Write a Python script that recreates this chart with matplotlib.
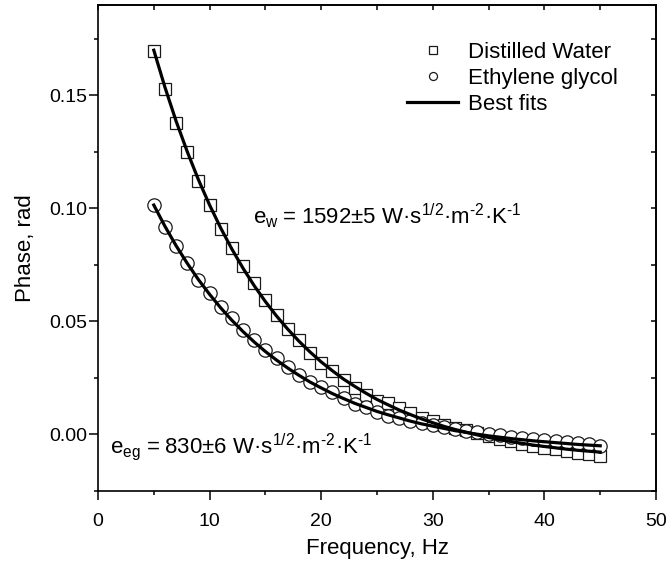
import matplotlib
matplotlib.use("Agg")
import matplotlib.pyplot as plt
from matplotlib.ticker import MultipleLocator, FormatStrFormatter, NullFormatter

plt.rcParams["font.family"] = ["Liberation Sans", "DejaVu Sans"]
plt.rcParams["mathtext.fontset"] = "custom"
plt.rcParams["mathtext.rm"] = "Liberation Sans"
plt.rcParams["mathtext.it"] = "Liberation Sans:italic"
plt.rcParams["mathtext.bf"] = "Liberation Sans:bold"

# Frekvenser (Hz)
frekvens = [5, 6, 7, 8, 9, 10, 11, 12, 13, 14, 15, 16, 17, 18, 19, 20,
            21, 22, 23, 24, 25, 26, 27, 28, 29, 30, 31, 32, 33, 34, 35,
            36, 37, 38, 39, 40, 41, 42, 43, 44, 45]

# Fase, destilleret vand (målt)
vand = [0.1695, 0.1530, 0.1380, 0.1250, 0.1120, 0.1016, 0.0910, 0.0825,
        0.0745, 0.0670, 0.0594, 0.0528, 0.0465, 0.0417, 0.0362, 0.0318,
        0.0280, 0.0240, 0.0207, 0.0176, 0.0150, 0.0140, 0.0115, 0.0093,
        0.0072, 0.0058, 0.0042, 0.0030, 0.0018, 0.0006, -0.0006, -0.0018,
        -0.0029, -0.0040, -0.0050, -0.0058, -0.0066, -0.0073, -0.0080,
        -0.0086, -0.0093]

# Fase, ethylenglykol (målt)
glykol = [0.1014, 0.0916, 0.0832, 0.0757, 0.0683, 0.0625, 0.0565, 0.0514,
          0.0461, 0.0417, 0.0373, 0.0337, 0.0299, 0.0262, 0.0232, 0.0210,
          0.0188, 0.0160, 0.0137, 0.0121, 0.0099, 0.0084, 0.0071, 0.0059,
          0.0049, 0.0040, 0.0032, 0.0024, 0.0016, 0.0009, 0.0003, -0.0004,
          -0.0010, -0.0015, -0.0020, -0.0025, -0.0030, -0.0034, -0.0038,
          -0.0043, -0.0050]

# Fit-kurver aflæst på samme frekvenser
vand_fit = [0.1700, 0.1536, 0.1386, 0.1251, 0.1127, 0.1015, 0.0913, 0.0820,
            0.0735, 0.0658, 0.0588, 0.0524, 0.0466, 0.0413, 0.0365, 0.0321,
            0.0282, 0.0245, 0.0213, 0.0183, 0.0155, 0.0131, 0.0108, 0.0088,
            0.0069, 0.0052, 0.0036, 0.0022, 0.0010, -0.0002, -0.0013, -0.0023,
            -0.0031, -0.0039, -0.0047, -0.0053, -0.0059, -0.0065, -0.0070,
            -0.0074, -0.0078]

glykol_fit = [0.1015, 0.0921, 0.0835, 0.0757, 0.0685, 0.0620, 0.0560, 0.0505,
              0.0455, 0.0409, 0.0367, 0.0329, 0.0294, 0.0262, 0.0232, 0.0206,
              0.0181, 0.0159, 0.0138, 0.0120, 0.0102, 0.0087, 0.0073, 0.0059,
              0.0047, 0.0037, 0.0027, 0.0017, 0.0009, 0.0001, -0.0006, -0.0012,
              -0.0018, -0.0023, -0.0028, -0.0032, -0.0036, -0.0040, -0.0044,
              -0.0047, -0.0050]

# U+2010 (bindestreg) i stedet for mathtext's brede minus
tekst_vand = (r"$\mathregular{e_w\hspace{0.1}=\hspace{0.1}1592±5\ "
              r"W·s^{1/2}·m^{‐2}·K^{‐1}}$")
tekst_glykol = (r"$\mathregular{e_{eg}\hspace{0.1}=\hspace{0.1}830±6\ "
                r"W·s^{1/2}·m^{‐2}·K^{‐1}}$")

fig = plt.figure(figsize=(6.67, 5.63), dpi=100)
ax = fig.add_axes([98 / 667, 1 - 491 / 563, 558 / 667, 486 / 563])

kant = "#1a1a1a"
ax.plot(frekvens, vand, ls="none", marker="s", ms=9.2, mfc="white",
        mec=kant, mew=0.9, label="Distilled Water", zorder=2)
ax.plot(frekvens, glykol, ls="none", marker="o", ms=9.6, mfc="white",
        mec=kant, mew=0.9, label="Ethylene glycol", zorder=3)
ax.plot(frekvens, vand_fit, color="black", lw=2.3, label="Best fits", zorder=4)
ax.plot(frekvens, glykol_fit, color="black", lw=2.3, zorder=4)

ax.set_xlim(0, 50)
ax.set_ylim(-0.025, 0.19)
ax.xaxis.set_major_locator(MultipleLocator(10))
ax.xaxis.set_minor_locator(MultipleLocator(5))
ax.yaxis.set_major_locator(MultipleLocator(0.05))
ax.yaxis.set_minor_locator(MultipleLocator(0.025))
ax.yaxis.set_major_formatter(FormatStrFormatter("%.2f"))

ax.tick_params(which="major", direction="out", length=6.5, width=1.1,
               labelsize=14, pad=1.5)
ax.tick_params(which="minor", direction="out", length=3.2, width=1.1)
ax.tick_params(axis="x", which="major", pad=9)
for side in ax.spines.values():
    side.set_linewidth(1.2)

# Spejlede ticks indad på top og højre side
top = ax.secondary_xaxis("top")
top.xaxis.set_major_locator(MultipleLocator(10))
top.xaxis.set_minor_locator(MultipleLocator(5))
top.xaxis.set_major_formatter(NullFormatter())
top.tick_params(which="both", direction="in", length=3.8, width=1.1)
top.spines["top"].set_linewidth(1.2)

hoejre = ax.secondary_yaxis("right")
hoejre.yaxis.set_major_locator(MultipleLocator(0.05))
hoejre.yaxis.set_minor_locator(MultipleLocator(0.025))
hoejre.yaxis.set_major_formatter(NullFormatter())
hoejre.tick_params(which="both", direction="in", length=3.8, width=1.1)
hoejre.spines["right"].set_linewidth(1.2)

ax.set_xlabel("Frequency, Hz", fontsize=16, labelpad=6)
ax.set_ylabel("Phase, rad", fontsize=16, labelpad=9)

ax.text(13.9, 0.0932, tekst_vand, fontsize=16, va="baseline", ha="left")
ax.text(1.07, -0.0084, tekst_glykol, fontsize=16, va="baseline", ha="left")

ax.legend(loc="upper left", bbox_to_anchor=(0.554, 0.924), frameon=False,
          fontsize=16, borderpad=0, handlelength=2.3, handletextpad=0.45,
          labelspacing=0.22, markerscale=0.6, borderaxespad=0)

fig.savefig("out.png", dpi=100)
